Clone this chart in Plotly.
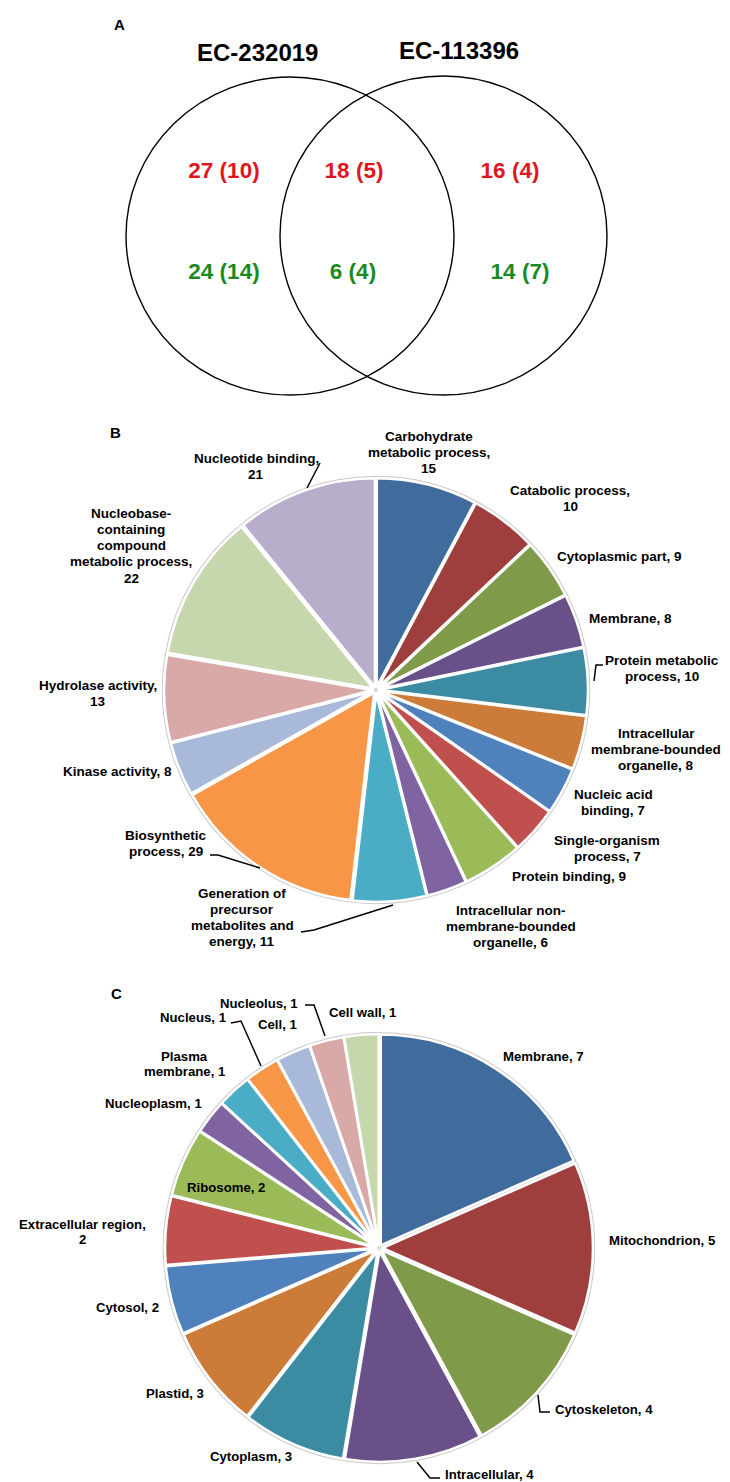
import plotly.graph_objects as go

W, H = 730, 1482

# ---------------- data ----------------
venn_sets = ["EC-232019", "EC-113396"]
venn_red_total = [27, 18, 16]
venn_red_sub = [10, 5, 4]
venn_green_total = [24, 6, 14]
venn_green_sub = [14, 4, 7]

terms_b = [
    "Carbohydrate\nmetabolic process",
    "Catabolic process",
    "Cytoplasmic part",
    "Membrane",
    "Protein metabolic\nprocess",
    "Intracellular\nmembrane-bounded\norganelle",
    "Nucleic acid\nbinding",
    "Single-organism\nprocess",
    "Protein binding",
    "Intracellular non-\nmembrane-bounded\norganelle",
    "Generation of\nprecursor\nmetabolites and\nenergy",
    "Biosynthetic\nprocess",
    "Kinase activity",
    "Hydrolase activity",
    "Nucleobase-\ncontaining\ncompound\nmetabolic process",
    "Nucleotide binding",
]
counts_b = [15, 10, 9, 8, 10, 8, 7, 7, 9, 6, 11, 29, 8, 13, 22, 21]

terms_c = [
    "Membrane", "Mitochondrion", "Cytoskeleton", "Intracellular", "Cytoplasm",
    "Plastid", "Cytosol", "Extracellular region", "Ribosome", "Nucleoplasm",
    "Plasma\nmembrane", "Nucleus", "Cell", "Nucleolus", "Cell wall",
]
counts_c = [7, 5, 4, 4, 3, 3, 2, 2, 2, 1, 1, 1, 1, 1, 1]

# ---------------- styles / layout ----------------
palette = [
    "#406B9D", "#9E3F3D", "#7F9B49", "#6A5088", "#3B8CA3", "#CC7B38",
    "#4F81BD", "#C0504D", "#9BBB59", "#8064A2", "#4BACC6", "#F79646",
    "#A9B9D9", "#D9A9A8", "#C6D6AD", "#B8AECB",
]
RED = "#E0161C"
GREEN = "#1B8A1E"
FONT = "Liberation Sans, Arial, sans-serif"
PULL = 0.015

# label anchor (centre x, first-line y, value on its own line)
labels_b_pos = [
    (421, 428, True), (562, 482, True), (611, 548, False), (622, 610, False),
    (654, 652, False), (648, 725, False), (605, 786, False), (599, 832, False),
    (561, 868, False), (503, 902, False), (234, 885, False), (158, 827, False),
    (109, 763, False), (90, 677, True), (123, 505, True), (248, 450, True),
]
labels_c_pos = [
    (535, 1048, False), (654, 1232, False), (596, 1401, False), (481, 1466, False),
    (243, 1448, False), (167, 1385, False), (119, 1299, False), (74, 1216, True),
    (218, 1179, False), (145, 1095, False), (176, 1048, False), (185, 1009, False),
    (269, 1016, False), (251, 995, False), (354, 1004, False),
]

leaders = [
    [(312, 455), (299, 480)],                      # Nucleotide binding
    [(595, 657), (588, 657), (586, 673)],          # Protein metabolic process
    [(202, 847), (210, 847), (252, 860)],          # Biosynthetic process
    [(293, 924), (306, 922), (385, 897)],          # Generation of precursor
    [(530, 1387), (532, 1404), (542, 1404)],       # Cytoskeleton
    [(409, 1454), (422, 1470), (432, 1470)],       # Intracellular
    [(223, 1015), (233, 1013), (253, 1058)],       # Nucleus
    [(297, 997), (306, 997), (317, 1028)],         # Nucleolus
]


def display_name(s):
    return s.replace("-\n", "-").replace("\n", " ")


def label_lines(name, value, newline):
    lines = name.split("\n")
    if newline:
        lines[-1] += ","
        lines.append(str(value))
    else:
        lines[-1] += f", {value}"
    return lines


def pie_domain(cx, cy, r):
    return dict(x=[(cx - r) / W, (cx + r) / W],
                y=[(H - cy - r) / H, (H - cy + r) / H])


fig = go.Figure()

# invisible pixel axes
fig.add_trace(go.Scatter(x=[0, W], y=[0, H], mode="markers",
                         marker=dict(opacity=0), hoverinfo="skip", showlegend=False))

# Venn numbers
fig.add_trace(go.Scatter(
    x=[216, 346, 502], y=[164, 164, 164], mode="text",
    text=[f"<b>{t} ({s})</b>" for t, s in zip(venn_red_total, venn_red_sub)],
    textfont=dict(family=FONT, size=22.5, color=RED), showlegend=False, hoverinfo="skip"))
fig.add_trace(go.Scatter(
    x=[216, 345, 512], y=[265, 265, 265], mode="text",
    text=[f"<b>{t} ({s})</b>" for t, s in zip(venn_green_total, venn_green_sub)],
    textfont=dict(family=FONT, size=22.5, color=GREEN), showlegend=False, hoverinfo="skip"))

shapes = [
    dict(type="circle", xref="x", yref="y", x0=118, x1=446, y0=69, y1=387,
         line=dict(color="black", width=1.4)),
    dict(type="circle", xref="x", yref="y", x0=272, x1=599, y0=68, y1=387,
         line=dict(color="black", width=1.4)),
]
for pts in leaders:
    path = "M " + " L ".join(f"{x},{y}" for x, y in pts)
    shapes.append(dict(type="path", xref="x", yref="y", path=path, layer="above",
                       line=dict(color="black", width=1.5)))


def add_pie(terms, counts, cx, cy, r):
    names = [display_name(t) for t in terms]
    cols = palette[:len(counts)]
    for lw, lc in ((4.5, "#C8C8C8"), (2.6, "white")):
        fig.add_trace(go.Pie(
            labels=names, values=counts, sort=False, direction="clockwise",
            rotation=0, textinfo="none", showlegend=False, pull=PULL,
            marker=dict(colors=cols, line=dict(color=lc, width=lw)),
            domain=pie_domain(cx, cy, r),
            hoverinfo="label+value" if lc == "white" else "skip"))


add_pie(terms_b, counts_b, 368, 682, 212)
add_pie(terms_c, counts_c, 371, 1240, 214)

annotations = []


def add_text(x, y, text, size, color="black"):
    annotations.append(dict(x=x, y=y, xref="x", yref="y", text=f"<b>{text}</b>",
                            showarrow=False, xanchor="center", yanchor="middle",
                            font=dict(family=FONT, size=size, color=color)))


add_text(111, 16, "A", 15)
add_text(107, 424, "B", 15)
add_text(108, 985, "C", 15)
add_text(249, 44, venn_sets[0], 24)
add_text(451, 42, venn_sets[1], 24)

for terms, counts, pos, size, sp in ((terms_b, counts_b, labels_b_pos, 13.5, 16.3),
                                     (terms_c, counts_c, labels_c_pos, 13.2, 15.5)):
    for t, v, (x, y, nl) in zip(terms, counts, pos):
        for i, line in enumerate(label_lines(t, v, nl)):
            add_text(x, y + i * sp, line, size)

fig.update_layout(
    width=W, height=H, margin=dict(l=0, r=0, t=0, b=0),
    paper_bgcolor="white", plot_bgcolor="white",
    xaxis=dict(range=[0, W], visible=False, fixedrange=True, domain=[0, 1]),
    yaxis=dict(range=[H, 0], visible=False, fixedrange=True, domain=[0, 1]),
    shapes=shapes, annotations=annotations, showlegend=False,
)

fig.write_html("out.html")
